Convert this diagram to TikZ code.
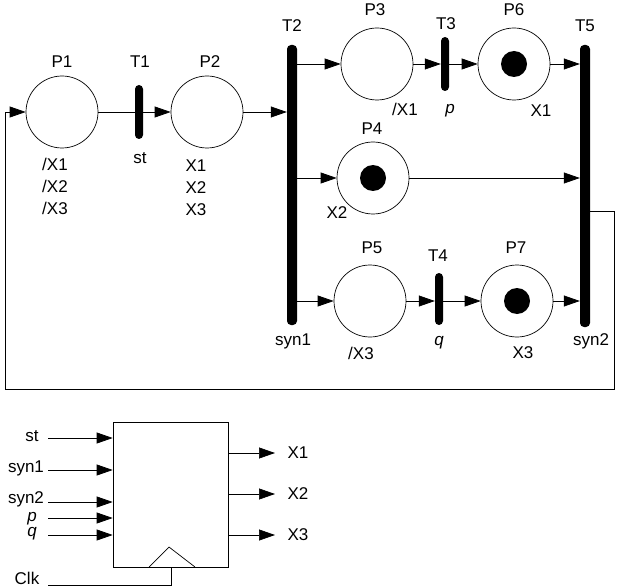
\documentclass[tikz,border=0pt]{standalone}
\usepackage{fontspec}
\setmainfont{Liberation Sans}
\usetikzlibrary{arrows.meta}
\begin{document}
\begin{tikzpicture}[x=1pt,y=-1pt,font=\fontsize{17}{20}\selectfont,
place/.style={draw,circle,minimum size=72pt,inner sep=0pt,line width=0.7pt},
trans/.style={fill=black,rounded corners=4pt,minimum width=8pt,inner sep=0pt},
tok/.style={fill=black,circle,minimum size=26pt,inner sep=0pt},
arr/.style={-{Triangle[length=16pt,width=11pt]},line width=0.7pt},
ln/.style={line width=0.7pt}]
\useasboundingbox(0,0)rectangle(618,588);
% places and transitions
\node[place](P1)at(62,112){};\node[place](P2)at(207,112){};
\node[place](P3)at(377,64){};\node[place](P6)at(514,64){};
\node[place](P4)at(373,178){};
\node[place](P5)at(370,301){};\node[place](P7)at(517,301){};
\node[tok](k6)at(P6){};\node[tok](k4)at(P4){};\node[tok](k7)at(P7){};
\node[trans,minimum height=54pt](T1)at(139,112){};
\node[trans,minimum width=10pt,minimum height=280pt](T2)at(292,185){};
\node[trans,minimum height=54pt](T3)at(445,64){};
\node[trans,minimum height=52pt](T4)at(439,299){};
\node[trans,minimum width=10pt,minimum height=282pt](T5)at(585,186){};
% arcs
\draw[ln](P1.east)--(P1.east-|T1.west);
\draw[arr](P2.west-|T1.east)--(P2.west);
\draw[arr](P2.east)--(P2.east-|T2.west);
\draw[arr](P3.west-|T2.east)--(P3.west);
\draw[arr](P4.west-|T2.east)--(P4.west);
\draw[arr](P5.west-|T2.east)--(P5.west);
\draw[arr](P3.east)--(P3.east-|T3.west);
\draw[arr](P6.west-|T3.east)--(P6.west);
\draw[arr](P5.east)--(P5.east-|T4.west);
\draw[arr](P7.west-|T4.east)--(P7.west);
\draw[arr](P6.east)--(P6.east-|T5.west);
\draw[arr](P4.east)--(P4.east-|T5.west);
\draw[arr](P7.east)--(P7.east-|T5.west);
\coordinate(fb)at(590,211);
\draw[arr](fb)--++(24,0)|-(5,389)|-(P1.west);
% labels
\node(lP1)at(62,62){P1};\node(lT1)at(140,62){T1};\node(lP2)at(210,62){P2};
\node(lT2)at(292,26){T2};\node(lP3)at(375,10){P3};\node(lT3)at(446,24){T3};
\node(lP6)at(514,10){P6};\node(lT5)at(585,26){T5};
\node(lP4)at(372,129){P4};\node(lP5)at(372,248){P5};\node(lT4)at(438,256){T4};
\node(lP7)at(516,248){P7};
\node(a1)at(55,164){/X1};\node(a2)at(55,186){/X2};\node(a3)at(55,208){/X3};
\node(lst)at(140,158){st};
\node(b1)at(196,166){X1};\node(b2)at(196,188){X2};\node(b3)at(196,210){X3};
\node(c1)at(405,109){/X1};\node(lp)at(450,111){\itshape p};\node(c2)at(541,111){X1};
\node(c3)at(337,213){X2};
\node(ls1)at(293,341){syn1};\node(c4)at(361,353){/X3};\node(lq)at(439,343){\itshape q};
\node(c5)at(523,353){X3};\node(ls2)at(591,341){syn2};
% block
\node[draw,ln,minimum width=115pt,minimum height=145pt,inner sep=0pt](blk)at(170.5,494.5){};
\draw[ln](149,567)--(169,547)--(195,567);
\coordinate(iSt)at(48,438);\coordinate(iS1)at(48,470);\coordinate(iS2)at(48,502);
\coordinate(iP)at(48,518);\coordinate(iQ)at(48,535);\coordinate(iClk)at(48,585);
\draw[arr](iSt)--(iSt-|blk.west);\draw[arr](iS1)--(iS1-|blk.west);
\draw[arr](iS2)--(iS2-|blk.west);\draw[arr](iP)--(iP-|blk.west);
\draw[arr](iQ)--(iQ-|blk.west);
\draw[ln](iClk)-|(171,567);
\node(dst)at(32,436){st};\node(ds1)at(26,468){syn1};
\node[inner sep=0pt](ds2)at(26,499){syn2};
\node[inner sep=0pt](dp)at(32,519){\itshape p};\node[inner sep=0pt](dq)at(32,534){\itshape q};
\node[inner sep=0pt](dclk)at(27,578){Clk};
\coordinate(oX1)at(275,453);\coordinate(oX2)at(275,494);\coordinate(oX3)at(275,535);
\draw[arr](oX1-|blk.east)--(oX1);\draw[arr](oX2-|blk.east)--(oX2);\draw[arr](oX3-|blk.east)--(oX3);
\node(d1)at(298,453){X1};\node(d2)at(298,494){X2};\node(d3)at(298,535){X3};
\end{tikzpicture}
\end{document}
